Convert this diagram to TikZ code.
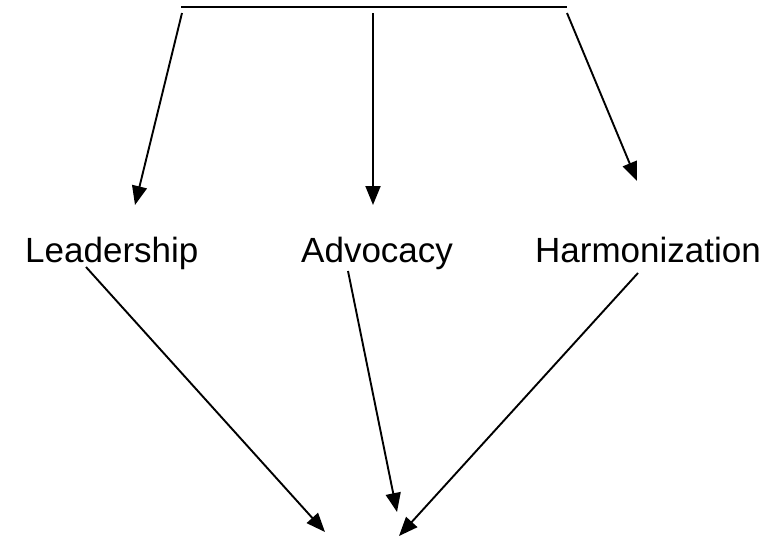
\documentclass[tikz,border=0pt]{standalone}
\usepackage{fontspec}
\setmainfont{Liberation Sans}
\usetikzlibrary{arrows.meta}
\tikzset{
  conn/.style={line width=1.9pt,-{Triangle[length=19pt,width=15pt]}},
  bar/.style={line width=1.9pt},
  lbl/.style={inner sep=0pt,font=\fontsize{35}{41}\selectfont}
}
\begin{document}
\begin{tikzpicture}[x=1pt,y=-1pt]
\useasboundingbox (0,0) rectangle (781,536);
% top bar
\coordinate (tl) at (181,7);
\coordinate (tr) at (567,7);
\draw[bar] (tl) -- (tr);
% labels
\node[lbl,anchor=base west] (lead) at (25,262) {Leadership};
\node[lbl,anchor=base west] (adv) at (301,262) {Advocacy};
\node[lbl,anchor=base west] (harm) at (535,262) {Harmonization};
% top arrow starts and tips
\coordinate (s1) at (182,13);
\coordinate (s2) at (373,13);
\coordinate (s3) at (567,13);
\coordinate (e1) at (135,205);
\coordinate (e2) at (373,205);
\coordinate (e3) at (637,181);
\draw[conn] (s1) -- (e1);
\draw[conn] (s2) -- (e2);
\draw[conn] (s3) -- (e3);
% bottom arrows
\coordinate (b1) at (86,267);
\coordinate (b2) at (348,271);
\coordinate (b3) at (638,273);
\coordinate (t1) at (325,532);
\coordinate (t2) at (397,512);
\coordinate (t3) at (399,536);
\draw[conn] (b1) -- (t1);
\draw[conn] (b2) -- (t2);
\draw[conn] (b3) -- (t3);
\end{tikzpicture}
\end{document}
